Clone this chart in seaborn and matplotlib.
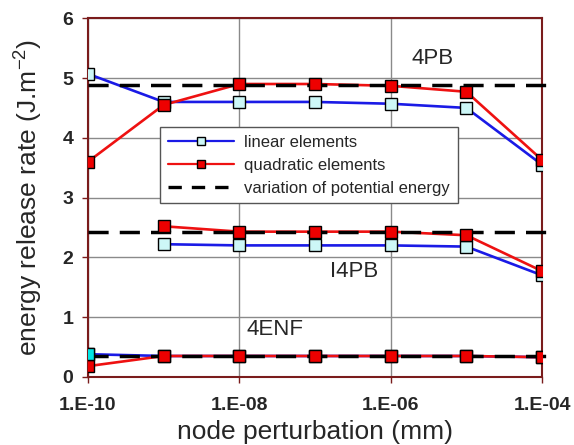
import numpy as np
import pandas as pd
import matplotlib
matplotlib.use("Agg")
import matplotlib.pyplot as plt
from matplotlib.lines import Line2D
import seaborn as sns

# ---- data ----
perturb = [1e-10, 1e-9, 1e-8, 1e-7, 1e-6, 1e-5, 1e-4]
pb4_linear = [5.07, 4.60, 4.60, 4.60, 4.57, 4.50, 3.55]
pb4_quad = [3.60, 4.55, 4.90, 4.90, 4.87, 4.77, 3.63]
pb4_energy = 4.88

i4pb_x = [1e-9, 1e-8, 1e-7, 1e-6, 1e-5, 1e-4]
i4pb_linear = [2.22, 2.20, 2.20, 2.20, 2.18, 1.70]
i4pb_quad = [2.52, 2.43, 2.43, 2.43, 2.37, 1.77]
i4pb_energy = 2.42

enf_linear = [0.38, 0.35, 0.35, 0.35, 0.35, 0.35, 0.33]
enf_quad = [0.18, 0.35, 0.35, 0.35, 0.35, 0.35, 0.33]
enf_energy = 0.35

xticks = [1e-10, 1e-8, 1e-6, 1e-4]
xticklabels = ["1.E-10", "1.E-08", "1.E-06", "1.E-04"]
yticks = [0, 1, 2, 3, 4, 5, 6]
series_labels = ["linear elements", "quadratic elements", "variation of potential energy"]
case_labels = ["4PB", "I4PB", "4ENF"]
case_label_x = [3.6e-6, 3.3e-7, 3.0e-8]
case_label_y = [5.33, 1.76, 0.79]

# ---- style ----
sns.set_style("white")
plt.rcParams['font.family'] = ['Liberation Sans', 'DejaVu Sans']

BLUE = "#1a1ae6"
RED = "#ee1111"
LIN_FACE = "#cdf7f7"
RED_FACE = "#ee0000"
FRAME = "#7a1c1c"
GRID = "#8a8a8a"

fig = plt.figure(figsize=(5.74, 4.45), dpi=100)
ax = fig.add_axes([0.1533, 0.153, 0.791, 0.806])

def draw(x, y, color, face, ms=9):
    df = pd.DataFrame({"x": x, "y": y})
    sns.lineplot(data=df, x="x", y="y", ax=ax, color=color, lw=1.9,
                 sort=False, zorder=3, legend=False)
    sns.lineplot(data=df, x="x", y="y", ax=ax, color=color, lw=0,
                 marker="s", markersize=ms, markerfacecolor=face,
                 markeredgecolor="black", markeredgewidth=1.0,
                 sort=False, zorder=5, legend=False)

# linear first, then quadratic
draw(perturb, pb4_linear, BLUE, LIN_FACE)
draw(i4pb_x, i4pb_linear, BLUE, LIN_FACE)
draw(perturb, enf_linear, BLUE, LIN_FACE)
# first 4ENF linear marker in saturated cyan
sns.lineplot(x=[perturb[0]], y=[enf_linear[0]], ax=ax, lw=0, marker="s",
             markersize=9, markerfacecolor="#00e5e5", markeredgecolor="black",
             markeredgewidth=1.0, zorder=6, legend=False)

draw(perturb, pb4_quad, RED, RED_FACE)
draw(i4pb_x, i4pb_quad, RED, RED_FACE)
draw(perturb, enf_quad, RED, RED_FACE)

# potential energy dashed lines
for e in [pb4_energy, i4pb_energy, enf_energy]:
    ax.axhline(e, xmin=0, xmax=1.018, color="black", lw=2.5,
               dashes=(5.8, 3.2), zorder=4, clip_on=False)

ax.set_xscale("log")
ax.set_xlim(perturb[0], perturb[-1])
ax.set_ylim(0, 6)
ax.set_xticks(xticks)
ax.set_xticklabels(xticklabels)
ax.xaxis.set_minor_locator(matplotlib.ticker.NullLocator())
ax.set_yticks(yticks)
ax.tick_params(axis="both", which="major", labelsize=14, length=4.5,
               direction="out", color=FRAME, width=1, pad=6, bottom=True, left=True)
ax.tick_params(axis="x", pad=10)
for lab in ax.get_xticklabels() + ax.get_yticklabels():
    lab.set_fontweight("bold")

ax.grid(True, color=GRID, lw=1.0, zorder=0)
ax.set_axisbelow(True)
for sp in ax.spines.values():
    sp.set_color(FRAME)
    sp.set_linewidth(1.5)

ax.set_xlabel("node perturbation (mm)", fontsize=19, labelpad=4)
ax.set_ylabel(r"energy release rate (J.m$^{\mathregular{-2}}$)", fontsize=19)
ax.yaxis.set_label_coords(-0.097, 0.5)

# case labels
for lbl, lx, ly in zip(case_labels, case_label_x, case_label_y):
    ax.text(lx, ly, lbl, fontsize=16, ha="center", va="center")

handles = [
    Line2D([], [], color=BLUE, lw=1.6, marker="s", markersize=5.5,
           markerfacecolor=LIN_FACE, markeredgecolor="black"),
    Line2D([], [], color=RED, lw=1.6, marker="s", markersize=5.5,
           markerfacecolor=RED_FACE, markeredgecolor="black"),
    Line2D([], [], color="black", lw=2.4, dashes=(4, 3)),
]
leg = ax.legend(handles, series_labels, loc="upper left",
                bbox_to_anchor=(0.159, 0.696), fontsize=12, frameon=True,
                fancybox=False, edgecolor="#555555", framealpha=1,
                handlelength=4.0, handletextpad=0.6, borderpad=0.45,
                labelspacing=0.48, borderaxespad=0)
leg.get_frame().set_linewidth(1.0)
leg.set_zorder(10)

fig.savefig("out.png", dpi=100)
